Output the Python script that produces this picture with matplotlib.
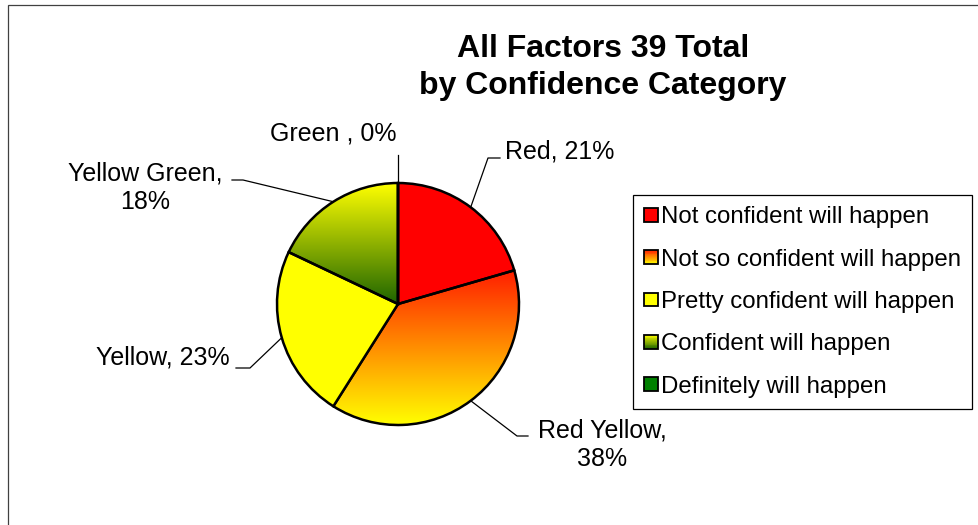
import numpy as np
import matplotlib
matplotlib.use('Agg')
import matplotlib.pyplot as plt
from matplotlib.patches import Rectangle
from matplotlib.legend_handler import HandlerBase
from matplotlib.colors import LinearSegmentedColormap, to_rgb

plt.rcParams['font.family'] = ['Liberation Sans', 'DejaVu Sans']

# ---------------- data ----------------
slice_names = ["Red", "Red Yellow", "Yellow", "Yellow Green", "Green "]
counts = [8, 15, 9, 7, 0]
label_seps = [", ", ",\n", ", ", ",\n", ", "]
legend_labels = ["Not confident will happen", "Not so confident will happen",
                 "Pretty confident will happen", "Confident will happen",
                 "Definitely will happen"]
title = "All Factors 39 Total\nby Confidence Category"

# ---------------- style ----------------
top_colors = ['#ff0000', '#ff1e00', '#ffff00', '#ffff00', '#008000']
bottom_colors = ['#ff0000', '#ffff00', '#ffff00', '#1e6400', '#008000']

W, H = 979, 525
fig = plt.figure(figsize=(W / 100, H / 100), dpi=100)
ax = fig.add_axes([0, 0, 1, 1])

def P(x, y):
    """pixel (top-left origin) -> axes data coords"""
    return (x, H - y)

center = P(398, 304)
R = 121
total = sum(counts)

wedges, _ = ax.pie(counts, startangle=90, counterclock=False, center=center,
                   radius=R, colors=top_colors,
                   wedgeprops=dict(edgecolor='black', linewidth=1.8))

# gradient fills
for w, ct, cb in zip(wedges, top_colors, bottom_colors):
    if ct != cb:
        ext = w.get_path().get_extents()
        grad = np.linspace(0, 1, 256).reshape(-1, 1)
        cmap = LinearSegmentedColormap.from_list('g', [ct, cb])
        im = ax.imshow(grad, cmap=cmap, extent=[ext.x0, ext.x1, ext.y0, ext.y1],
                       origin='upper', aspect='auto', zorder=w.get_zorder() - 0.1,
                       interpolation='bilinear')
        im.set_clip_path(w)
        w.set_facecolor('none')

# labels with leader lines
text_pos = [(505, 152), (602, 445), (230, 358), (145, 188), (333, 133)]
text_ha = ['left', 'center', 'right', 'center', 'center']
elbow_pts = [(488, 158), (517, 436), (250, 368), (243, 180), (398, 155)]
end_pts = [(500, 158), (528, 436), (236, 368), (232, 180), (398, 155)]

for i, w in enumerate(wedges):
    pct = round(counts[i] / total * 100)
    ang = np.deg2rad((w.theta1 + w.theta2) / 2)
    ex = center[0] + R * np.cos(ang)
    ey = center[1] + R * np.sin(ang)
    ex2, ey2 = P(*elbow_pts[i])
    ex3, ey3 = P(*end_pts[i])
    ax.plot([ex, ex2, ex3], [ey, ey2, ey3], color='black', lw=0.9, zorder=1)
    tx, ty = P(*text_pos[i])
    ax.text(tx, ty, f"{slice_names[i]}{label_seps[i]}{pct}%", ha=text_ha[i],
            va='center', multialignment='center', fontsize=18, linespacing=1.22)


class GradHandler(HandlerBase):
    def __init__(self, ct, cb, n=16):
        super().__init__()
        self.ct = np.array(to_rgb(ct))
        self.cb = np.array(to_rgb(cb))
        self.n = n

    def create_artists(self, legend, orig_handle, xdescent, ydescent, width,
                       height, fontsize, trans):
        s = min(width, height)
        x0 = -xdescent + (width - s) / 2
        y0 = -ydescent + (height - s) / 2
        arts = []
        n = self.n
        for k in range(n):
            f = (k + 0.5) / n
            c = self.ct * (1 - f) + self.cb * f
            arts.append(Rectangle((x0, y0 + s * (1 - (k + 1) / n)), s, s / n,
                                  facecolor=c, edgecolor='none', transform=trans))
        arts.append(Rectangle((x0, y0), s, s, facecolor='none', edgecolor='black',
                              linewidth=1.3, transform=trans))
        return arts


hmap = {w: GradHandler(ct, cb) for w, ct, cb in zip(wedges, top_colors, bottom_colors)}
leg = ax.legend(wedges, legend_labels, handler_map=hmap, loc='center',
                bbox_to_anchor=((631 + 974) / 2 / W, 1 - 302 / H),
                bbox_transform=fig.transFigure, fontsize=17.3, frameon=True,
                fancybox=False, edgecolor='black', framealpha=1,
                handlelength=0.58, handleheight=0.58, handletextpad=0.15,
                labelspacing=0.85, borderpad=0.45, borderaxespad=0)
leg.get_frame().set_linewidth(0.9)

# title
tx, ty = P(603, 67.5)
ax.text(tx, ty, title, ha='center', va='center', fontsize=23, fontweight='bold',
        linespacing=1.3)

# outer chart frame
ax.add_patch(Rectangle((8, -100), 1200, H - 5 + 100, fill=False,
                       edgecolor='#404040', linewidth=0.9, clip_on=False))

ax.set_xlim(0, W)
ax.set_ylim(0, H)
ax.set_aspect('auto')
ax.axis('off')

fig.savefig('out.png', dpi=100)
